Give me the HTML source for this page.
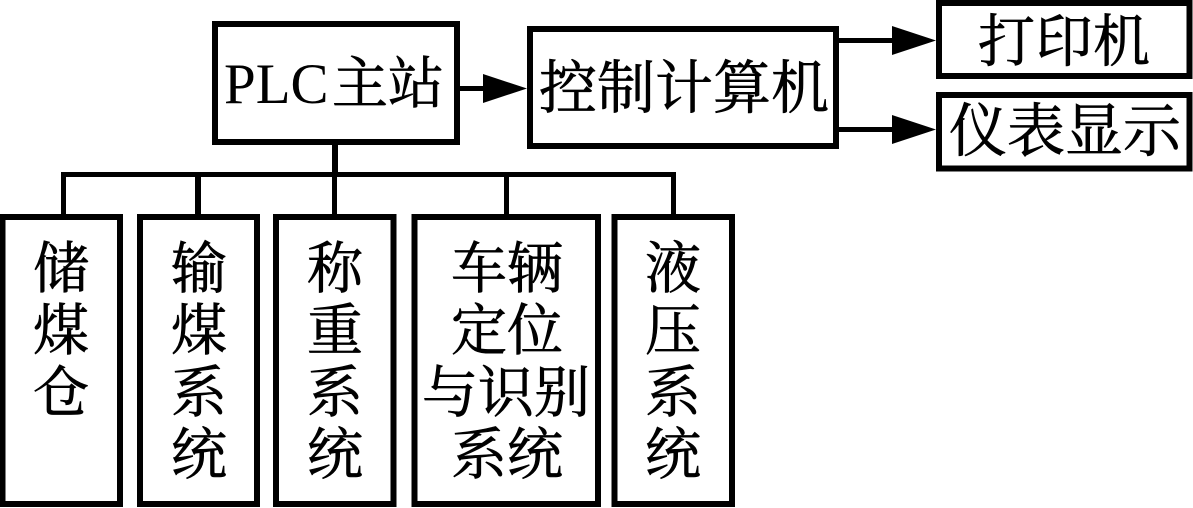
<!DOCTYPE html>
<html><head><meta charset="utf-8"><style>
html,body{margin:0;padding:0;background:#fff;width:1193px;height:508px;overflow:hidden}
svg{display:block}
text{font-family:"Liberation Serif","Noto Serif CJK SC",serif;fill:#000}
.c text{stroke:#000;stroke-width:.7px}
</style></head><body>
<svg width="1193" height="508" viewBox="0 0 1193 508" xmlns="http://www.w3.org/2000/svg">
<rect width="1193" height="508" fill="#fff"/>
<g fill="none" stroke="#000" stroke-width="6">
<rect x="215" y="24" width="242" height="118"/>
<rect x="530" y="29" width="306" height="117"/>
<rect x="939" y="3" width="250.500" height="73"/>
<rect x="939" y="95" width="250.500" height="73.500"/>
<rect x="2.500" y="217" width="117.500" height="287"/>
<rect x="140" y="217" width="117" height="287"/>
<rect x="276" y="217" width="117.500" height="287"/>
<rect x="414.500" y="217" width="183.500" height="287"/>
<rect x="614.500" y="217" width="117.500" height="287"/>
</g>
<g fill="#000">
<rect x="460" y="86" width="24" height="5"/>
<polygon points="483,74 527,88.500 483,103"/>
<rect x="839" y="38" width="54" height="5"/>
<polygon points="892,26 936,40.500 892,55"/>
<rect x="839" y="127" width="54" height="5"/>
<polygon points="892,115 936,129.500 892,144"/>
<rect x="332" y="145" width="6" height="28"/>
<rect x="61" y="172" width="615" height="5"/>
<rect x="61" y="172" width="5" height="43"/>
<rect x="195" y="172" width="6" height="43"/>
<rect x="332" y="172" width="5" height="43"/>
<rect x="504" y="172" width="5" height="43"/>
<rect x="671" y="172" width="5" height="43"/>
</g>
<text x="224" y="103" font-size="57">PLC</text>
<g class="c" font-size="56">
<text x="332" y="103" font-size="56">主</text>
<text x="388" y="103" font-size="56">站</text>
<text x="539" y="108" font-size="58" textLength="290">控制计算机</text>
<text x="978" y="61" font-size="57" textLength="172">打印机</text>
<text x="949" y="151" font-size="58" textLength="232">仪表显示</text>
</g>
<g class="c" font-size="56" text-anchor="middle">
<text x="61" y="288">储</text><text x="61" y="350">煤</text><text x="61" y="412">仓</text>
<text x="199" y="288">输</text><text x="199" y="350">煤</text><text x="199" y="412">系</text><text x="199" y="474">统</text>
<text x="335" y="288">称</text><text x="335" y="350">重</text><text x="335" y="412">系</text><text x="335" y="474">统</text>
<text x="479" y="288">车</text><text x="535" y="288">辆</text>
<text x="479" y="350">定</text><text x="535" y="350">位</text>
<text x="450" y="412">与</text><text x="506" y="412">识</text><text x="562" y="412">别</text>
<text x="479" y="474">系</text><text x="535" y="474">统</text>
<text x="673" y="288">液</text><text x="673" y="350">压</text><text x="673" y="412">系</text><text x="673" y="474">统</text>
</g>
</svg>
</body></html>
